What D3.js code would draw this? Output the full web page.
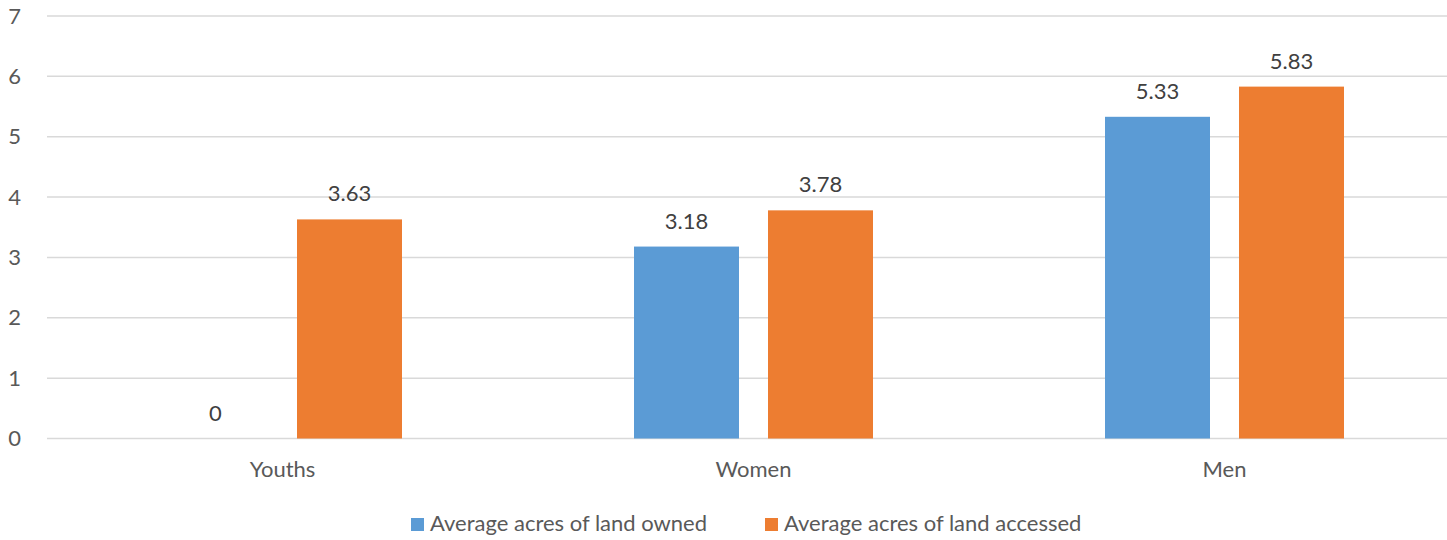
<!DOCTYPE html>
<html>
<head>
<meta charset="utf-8">
<script src="https://cdn.jsdelivr.net/npm/d3@7"></script>
<style>
  html, body { margin: 0; padding: 0; background: #fff; }
  svg { display: block; }
  text { font-family: Lato, "Open Sans", sans-serif; }
</style>
</head>
<body>
<svg id="chart" width="1447" height="540"></svg>
<script>
// Land owned vs. accessed by group
const categories = ["Youths", "Women", "Men"];
const seriesNames = ["Average acres of land owned", "Average acres of land accessed"];
const owned = [0, 3.18, 5.33];
const accessed = [3.63, 3.78, 5.83];
const yTicks = [0, 1, 2, 3, 4, 5, 6, 7];
const colors = ["#5B9BD5", "#ED7D31"];

const series = [owned, accessed];
const fontSize = 22;

const svg = d3.select("#chart");
const margin = { left: 47, top: 16, bottom: 438.5 };
const plotRight = 1460;

const x = d3.scaleBand().domain(categories).range([margin.left, plotRight]).paddingInner(0).paddingOuter(0);
const y = d3.scaleLinear().domain([0, 7]).range([margin.bottom, margin.top]);

const barW = 105, gap = 29;

// gridlines
svg.append("g").selectAll("line").data(yTicks).join("line")
  .attr("x1", margin.left).attr("x2", plotRight)
  .attr("y1", d => y(d)).attr("y2", d => y(d))
  .attr("stroke", "#d9d9d9").attr("stroke-width", 1.5);

// y-axis labels
const yAxis = d3.axisLeft(y).tickValues(yTicks).tickSize(0).tickPadding(0).tickFormat(d3.format("d"));
const yg = svg.append("g").attr("transform", "translate(21,0)").call(yAxis);
yg.select(".domain").remove();
yg.selectAll("text").attr("font-size", fontSize).attr("fill", "#595959")
  .attr("font-family", "Lato, 'Open Sans', sans-serif");

// bars and value labels
series.forEach((vals, si) => {
  const g = svg.append("g");
  const xOff = d => {
    const c = x(d) + x.bandwidth() / 2;
    return si === 0 ? c - gap / 2 - barW : c + gap / 2;
  };
  g.selectAll("rect").data(categories).join("rect")
    .attr("x", d => xOff(d))
    .attr("width", barW)
    .attr("y", (d, i) => y(vals[i]))
    .attr("height", (d, i) => y(0) - y(vals[i]))
    .attr("fill", colors[si]);
  g.selectAll("text").data(categories).join("text")
    .attr("x", d => xOff(d) + barW / 2)
    .attr("y", (d, i) => y(vals[i]) - 18)
    .attr("text-anchor", "middle")
    .attr("font-size", fontSize)
    .attr("fill", "#404040")
    .text((d, i) => vals[i]);
});

// category labels
svg.append("g").selectAll("text").data(categories).join("text")
  .attr("x", d => x(d) + x.bandwidth() / 2)
  .attr("y", 477)
  .attr("text-anchor", "middle")
  .attr("font-size", fontSize)
  .attr("fill", "#595959")
  .text(d => d);

// legend
const legendX = [411, 765];
const lg = svg.append("g");
seriesNames.forEach((name, i) => {
  lg.append("rect").attr("x", legendX[i]).attr("y", 518).attr("width", 13).attr("height", 13).attr("fill", colors[i]);
  lg.append("text").attr("x", legendX[i] + 19).attr("y", 531).attr("font-size", fontSize)
    .attr("fill", "#595959").text(name);
});
</script>
</body>
</html>
